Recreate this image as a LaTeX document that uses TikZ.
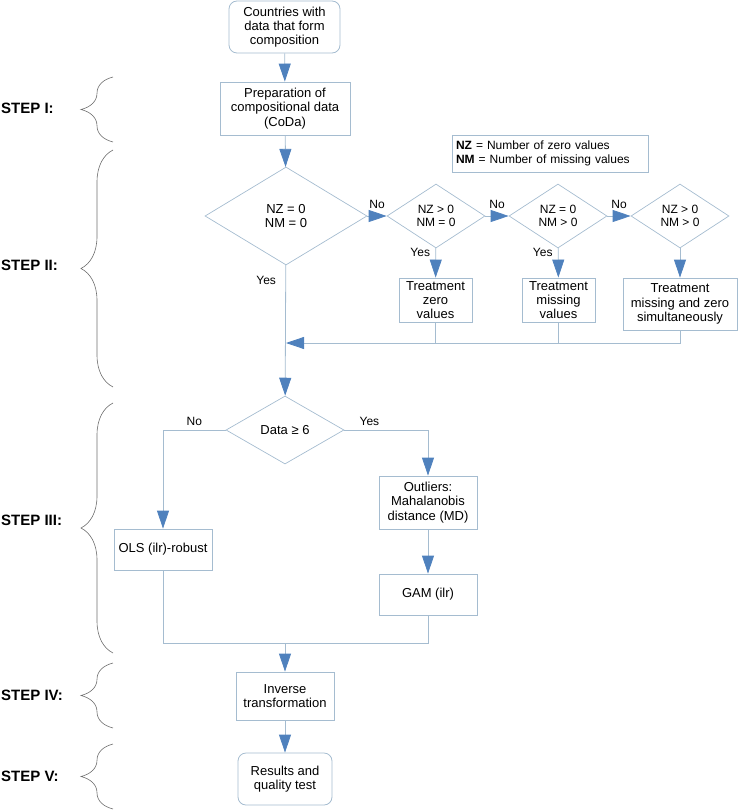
\documentclass[tikz,border=0pt]{standalone}
\usepackage{fontspec}
\setmainfont{Liberation Sans}
\usetikzlibrary{positioning,shapes.geometric,arrows.meta,decorations.pathreplacing}
\definecolor{boxline}{RGB}{165,188,208}
\definecolor{tipblue}{RGB}{79,129,189}
\definecolor{bracegray}{RGB}{110,110,110}

\begin{document}
\begin{tikzpicture}[x=1pt, y=1pt,
		font=\fontsize{13}{14.3}\selectfont,
		b/.style={rectangle, draw=boxline, line width=0.8pt, align=center, inner sep=0pt},
		rb/.style={b, rounded corners=8pt},
		d/.style={diamond, draw=boxline, line width=0.7pt, align=center, inner sep=0pt, font=\fontsize{12}{13.5}\selectfont},
		bigd/.style={d, font=\fontsize{13}{14.5}\selectfont},
		ln/.style={draw=boxline, line width=0.8pt},
		arr/.style={ln, -{Triangle[width=12pt, length=18pt, color=tipblue]}},
		lbl/.style={font=\fontsize{12}{13}\selectfont},
		stp/.style={font=\fontsize{15}{18}\selectfont\bfseries, anchor=west, inner sep=0pt},
		br/.style={draw=bracegray, line width=0.6pt, decorate, decoration={brace, amplitude=32pt}}]
		\useasboundingbox (0,0) rectangle (738,-810);

		\node [rb, minimum width=111pt, minimum height=52pt] (start) at (284.5,-27) {Countries with\\data that form\\composition};
		\node [b, minimum width=130pt, minimum height=53pt] (prep) at (285,-108.5) {Preparation of\\compositional data\\(CoDa)};
		\node [b, align=left, text width=188pt, inner xsep=4pt, minimum height=37pt, font=\fontsize{12}{13.3}\selectfont] (key) at (550,-153.5) {\textbf{NZ} = Number of zero values\\\textbf{NM} = Number of missing values};

		\node [bigd, minimum width=162pt, minimum height=98pt] (d1) at (286,-216) {NZ = 0\\NM = 0};
		\node [d, minimum width=98pt, minimum height=64pt] (d2) at (436,-216) {NZ > 0\\NM = 0};
		\node [d, minimum width=98pt, minimum height=64pt] (d3) at (558,-216) {NZ = 0\\NM > 0};
		\node [d, minimum width=98pt, minimum height=64pt] (d4) at (680,-216) {NZ > 0\\NM > 0};

		\node [b, minimum width=73pt, minimum height=44pt] (t1) at (435.5,-300) {Treatment\\zero\\values};
		\node [b, minimum width=73pt, minimum height=44pt] (t2) at (558.5,-300) {Treatment\\missing\\values};
		\node [b, minimum width=114pt, minimum height=52pt] (t3) at (680,-304) {Treatment\\missing and zero\\simultaneously};

		\node [bigd, minimum width=118pt, minimum height=68pt] (d5) at (285,-430) {Data ≥ 6};
		\node [b, minimum width=98pt, minimum height=41pt] (ols) at (163,-549.5) {OLS (ilr)-robust};
		\node [b, minimum width=98pt, minimum height=53pt] (outl) at (428,-502.5) {Outliers:\\Mahalanobis\\distance (MD)};
		\node [b, minimum width=98pt, minimum height=41pt] (gam) at (428,-594.5) {GAM (ilr)};

		\node [b, minimum width=98pt, minimum height=48pt] (inv) at (285,-696) {Inverse\\transformation};
		\node [rb, minimum width=94pt, minimum height=52pt] (res) at (285,-779) {Results and\\quality test};

		\coordinate (j1) at (286,-343);
		\coordinate (j2) at (285,-643);

		\path[arr] (start) edge (prep);
		\path[arr] (prep) edge (d1);
		\draw[arr] (d1.east) -- node [lbl, midway, above=4pt] {No} (d2.west);
		\draw[arr] (d2.east) -- node [lbl, midway, above=4pt] {No} (d3.west);
		\draw[arr] (d3.east) -- node [lbl, midway, above=4pt] {No} (d4.west);
		\path[arr] (d2) edge node [lbl, pos=0.15, left=2pt] {Yes} (t1);
		\path[arr] (d3) edge node [lbl, pos=0.15, left=2pt] {Yes} (t2);
		\path[arr] (d4) edge (t3);
		\draw[ln] (t1.south) -- (t1.south |- j1);
		\draw[ln] (t2.south) -- (t2.south |- j1);
		\draw[arr] (t3.south) |- (j1);
		\path[arr] (d1) edge node [lbl, pos=0.12, left=6pt] {Yes} (d5);

		\draw[arr] (d5.west) -| node [lbl, pos=0.25, above=1pt] {No} (ols);
		\draw[arr] (d5.east) -| node [lbl, pos=0.15, above=1pt] {Yes} (outl);
		\path[arr] (outl) edge (gam);
		\draw[ln] (ols.south) |- (j2);
		\draw[ln] (gam.south) |- (j2);
		\draw[arr] (j2) -- (inv);
		\path[arr] (inv) edge (res);

		% steps
		\draw[br] (113,-142) -- (113,-77);
		\draw[br] (113,-387) -- (113,-150);
		\draw[br] (113,-653) -- (113,-403);
		\draw[br] (113,-728) -- (113,-663);
		\draw[br] (113,-809) -- (113,-744);
		\node [stp] (s1) at (1,-108) {STEP I:};
		\node [stp] (s2) at (1,-265) {STEP II:};
		\node [stp] (s3) at (1,-520) {STEP III:};
		\node [stp] (s4) at (1,-695) {STEP IV:};
		\node [stp] (s5) at (1,-776) {STEP V:};
	\end{tikzpicture}
\end{document}
